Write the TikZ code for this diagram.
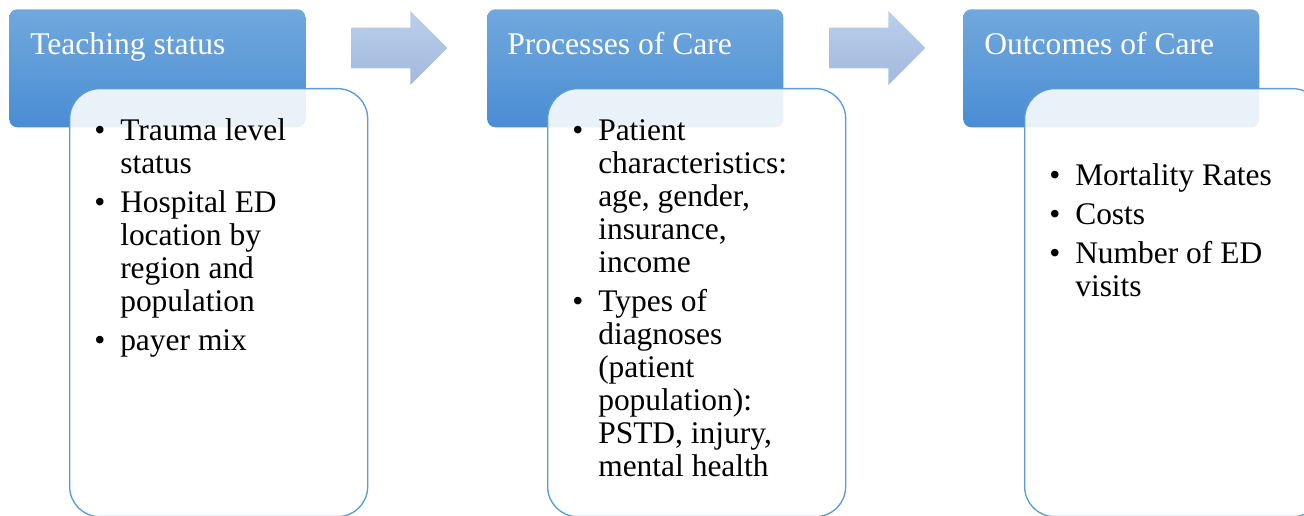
\documentclass[tikz,border=0pt]{standalone}
\usepackage{fontspec}
\setmainfont{Liberation Serif}
\usetikzlibrary{shapes.arrows}
\definecolor{HeadTop}{HTML}{71A8DD}
\definecolor{HeadBottom}{HTML}{4A8DD3}
\definecolor{BoxLine}{HTML}{5B9BD5}
\definecolor{ArrowTop}{HTML}{BACFEC}
\definecolor{ArrowBottom}{HTML}{A2B9DD}
\tikzset{
  header/.style={rectangle, rounded corners=6pt, top color=HeadTop, bottom color=HeadBottom,
    minimum width=222pt, minimum height=88.5pt, anchor=north west, inner sep=0pt},
  body/.style={rectangle, rounded corners=22.5pt, draw=BoxLine, line width=1pt, fill=white,
    fill opacity=0.88, minimum width=223.5pt, minimum height=321pt, anchor=north west, inner sep=0pt},
  headtext/.style={anchor=base west, text=white, font=\fontsize{23.7}{28}\selectfont, inner sep=0pt},
  bullets/.style={anchor=base west, font=\fontsize{23.6}{24.75}\selectfont, inner sep=0pt},
  blockarrow/.style={single arrow, top color=ArrowTop, bottom color=ArrowBottom, minimum height=72pt,
    single arrow head extend=12.4pt, inner xsep=0pt, inner ysep=15pt, anchor=west}
}
\newcommand{\bl}{\makebox[19.5pt][l]{\textbullet}}
\begin{document}
\begin{tikzpicture}[x=0.75pt, y=-0.75pt]
    \useasboundingbox (0,0) rectangle (1304,516);
    % headers
    \node[header] at (9, 9)    (hteach) {};
    \node[header] at (487, 9)  (hproc) {};
    \node[header] at (963, 9)  (hout) {};
    % content boxes
    \node[body] at (69, 88)    (bteach) {};
    \node[body] at (547, 88)   (bproc) {};
    \node[body] at (1024, 88)  (bout) {};
    % titles
    \node[headtext] at (30, 55)   (tteach) {Teaching status};
    \node[headtext] at (507, 55)  (tproc) {Processes of Care};
    \node[headtext] at (984, 55)  (tout) {Outcomes of Care};
    % arrows
    \node[blockarrow] at (351, 48) (ateach) {};
    \node[blockarrow] at (829, 48) (aproc) {};
    % lists
    \node[bullets] at (94, 141) (lteach) {\begin{tabular}[t]{@{}l@{}l@{}}
      \bl & Trauma level\\ & status\\[4.5pt]
      \bl & Hospital ED\\ & location by\\ & region and\\ & population\\[4.5pt]
      \bl & payer mix
    \end{tabular}};
    \node[bullets] at (572, 141) (lproc) {\begin{tabular}[t]{@{}l@{}l@{}}
      \bl & Patient\\ & characteristics:\\ & age, gender,\\ & insurance,\\ & income\\[4.5pt]
      \bl & Types of\\ & diagnoses\\ & (patient\\ & population):\\ & PSTD, injury,\\ & mental health
    \end{tabular}};
    \node[bullets] at (1049, 186) (lout) {\begin{tabular}[t]{@{}l@{}l@{}}
      \bl & Mortality Rates\\[4.5pt]
      \bl & Costs\\[4.5pt]
      \bl & Number of ED\\ & visits
    \end{tabular}};
\end{tikzpicture}
\end{document}
